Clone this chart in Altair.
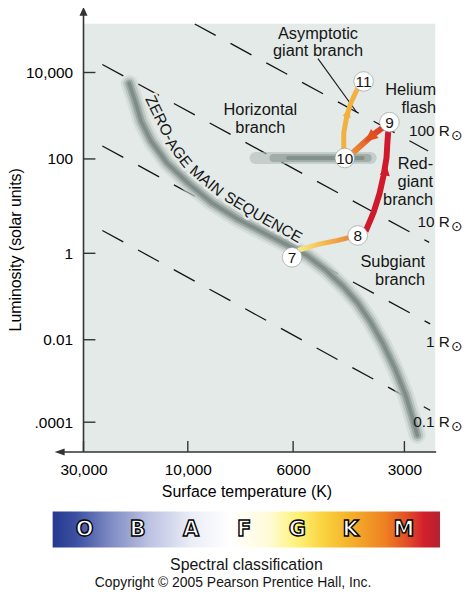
import altair as alt
import pandas as pd

FONT = "Liberation Sans"
BG = "#e4eae8"
INK = "#151515"

# ---------------- axes ----------------
x_tick_values = [30000, 10000, 6000, 3000]
x_tick_labels = ["30,000", "10,000", "6000", "3000"]
y_tick_values = [10000, 100, 1, 0.01, 0.0001]
y_tick_labels = ["10,000", "100", "1", "0.01", ".0001"]

# the printed figure's axes are not uniformly logarithmic: breakpoints of the scales
x_break_T = [30000, 10000, 6000, 3000, 2475]
x_break_px = [0, 105, 211, 323, 354]
y_break_L = [1.9e-5, 1e-4, 1e-2, 1, 1e2, 1e4, 1.35e5]
y_break_px = [431, 401, 318, 231, 136, 49, 0]

# ---------------- constant-radius lines ----------------
radius_labels = ["100 R", "10 R", "1 R", "0.1 R"]
radius_T_start = [9670, 24600, 24600, 24600]
radius_L_start = [1.34e5, 15300, 199, 3.05]
radius_T_end = [2586, 2570, 2554, 2554]
radius_L_end = [153, 1.70, 0.0233, 1.95e-4]
radius_label_T = [2257, 2257, 2257, 2257]
radius_label_L = [440, 4.5, 0.00895, 1e-4]

# ---------------- zero-age main sequence ----------------
zams_T = [18540, 17410, 16350, 14730, 12460, 9952, 8907, 7823, 6934, 6148,
          5469, 4893, 4377, 4013, 3704, 3417, 3173, 2982, 2856, 2768]
zams_L = [5587, 2154, 747, 259, 82.4, 29.8, 11.85, 5.20, 2.77, 1.474,
          0.853, 0.4066, 0.1654, 0.0709, 0.02593, 0.00758, 0.00189, 4.73e-4, 1.32e-4, 4.86e-5]
zams_words = ["ZERO-", "AGE", "MAIN", "SEQU", "ENCE"]
zams_word_T = [13410, 10990, 9125, 7598, 6327]
zams_word_L = [876, 137, 34.4, 9.76, 3.36]
zams_word_angle = [64, 52, 40, 31, 29]

# ---------------- horizontal branch ----------------
hb_T = [7200, 3700]
hb_mid_T = [6600, 3770]
hb_core_T = [6150, 3890]
hb_L = [105, 105]

# ---------------- evolutionary track ----------------
subgiant_T = [5818, 5140, 4543, 4115]
subgiant_L = [1.157, 1.547, 1.878, 2.28]
redgiant_T = [3820, 3636, 3503, 3417, 3354, 3333, 3313]
redgiant_L = [2.905, 7.30, 18.3, 43.9, 105, 259, 490]
flash_T = [3417, 3658, 3892, 4140]
flash_L = [544, 356, 221, 137]
agb_T = [4377, 4377, 4296, 4191, 4063, 3916]
agb_L = [153, 396, 974, 1938, 3469, 6210]

arrow_T = [3376, 3704, 4270]
arrow_L = [55.9, 320, 1141]
arrow_angle = [8, 230, 17]

star_labels = ["7", "8", "9", "10", "11"]
star_T = [6030, 4013, 3293, 4350, 3868]
star_L = [0.809, 2.39, 709, 105, 6210]

pointer_T = [5140, 4038]
pointer_L = [20980, 1204]

# anchors are at the first line of each note
note_c_text = ["Asymptotic\ngiant branch", "Horizontal\nbranch"]
note_c_T = [5140, 7035]
note_c_L = [78800, 1338]
note_r_text = ["Helium\nflash", "Red-\ngiant\nbranch", "Subgiant\nbranch"]
note_r_T = [2461, 2507, 2636]
note_r_L = [3857, 78.5, 0.621]

# ---------------- spectral classes ----------------
spectral_classes = ["O", "B", "A", "F", "G", "K", "M"]
spectral_pos = [0, 1, 2, 3, 4, 5, 6]
spectral_bar = [-0.6, 6.68]
spectral_stops = [(0.00, "#24398f"), (0.06, "#3c4fa2"), (0.15, "#7f8bc4"), (0.25, "#bcc2e2"),
                  (0.36, "#eceef7"), (0.46, "#ffffff"), (0.56, "#fffbd6"), (0.63, "#fff27a"),
                  (0.70, "#fad23e"), (0.78, "#f4ab2a"), (0.86, "#ee7f22"), (0.92, "#e04a26"),
                  (0.96, "#d21f2d"), (1.00, "#b42030")]


def label_expr(values, labels):
    parts = [f"datum.value == {v} ? '{l}'" for v, l in zip(values, labels)]
    return " : ".join(parts) + " : ''"


xscale = alt.Scale(type="log", domain=x_break_T, range=x_break_px, nice=False, zero=False)
yscale = alt.Scale(type="log", domain=y_break_L, range=y_break_px, nice=False, zero=False)

x_axis = alt.Axis(values=x_tick_values, labelExpr=label_expr(x_tick_values, x_tick_labels),
                  title="Surface temperature (K)", domain=False, ticks=False, grid=False,
                  labelPadding=11, labelFont=FONT, labelFontSize=15.5, labelColor="black",
                  labelFlush=False, labelOverlap=False,
                  titleFont=FONT, titleFontSize=16, titleFontWeight="normal", titleColor="black",
                  titleX=164, titleY=40, titleAlign="center", titleBaseline="middle")
y_axis = alt.Axis(values=y_tick_values, labelExpr=label_expr(y_tick_values, y_tick_labels),
                  title="Luminosity (solar units)", domain=False, ticks=False, grid=False,
                  labelPadding=11, labelFont=FONT, labelFontSize=15.5, labelColor="black",
                  labelOverlap=False,
                  titleFont=FONT, titleFontSize=16, titleFontWeight="normal", titleColor="black",
                  titleX=-68, titleY=227, titleAngle=270, titleAlign="center", titleBaseline="middle")


def X(field="T"):
    return alt.X(f"{field}:Q", scale=xscale, axis=x_axis)


def Y(field="L"):
    return alt.Y(f"{field}:Q", scale=yscale, axis=y_axis)


def path_df(T, L):
    return pd.DataFrame({"T": T, "L": L, "i": list(range(len(T)))})


one = pd.DataFrame({"k": [0]})

layers = []

# constant radius dashed lines
rows = []
for name, t0, l0, t1, l1 in zip(radius_labels, radius_T_start, radius_L_start, radius_T_end, radius_L_end):
    rows.append({"name": name, "i": 0, "T": t0, "L": l0})
    rows.append({"name": name, "i": 1, "T": t1, "L": l1})
radius_df = pd.DataFrame(rows)
layers.append(alt.Chart(radius_df).mark_line(strokeDash=[24, 17], color=INK, strokeWidth=1.3).encode(
    x=X(), y=Y(), detail="name:N", order="i:Q"))

# ZAMS soft tube
zdf = path_df(zams_T, zams_L)
for w, c, op in [(17, "#cbd3d0", 0.6), (12, "#b0bab6", 0.7), (7.5, "#939f9b", 0.85), (3.5, "#7c8985", 0.9)]:
    layers.append(alt.Chart(zdf).mark_line(strokeWidth=w, color=c, opacity=op, strokeCap="round",
                                           strokeJoin="round").encode(x=X(), y=Y(), order="i:Q"))

# horizontal branch blob
for T, w, c, op in [(hb_T, 12, "#b0bab6", 0.6), (hb_mid_T, 8, "#939f9b", 0.7), (hb_core_T, 4, "#7c8985", 0.8)]:
    layers.append(alt.Chart(path_df(T, hb_L)).mark_line(strokeWidth=w, color=c, opacity=op,
                                                        strokeCap="round").encode(x=X(), y=Y(), order="i:Q"))

# ZAMS label (with halo to interrupt dashes)
zw = pd.DataFrame({"w": zams_words, "T": zams_word_T, "L": zams_word_L, "a": zams_word_angle})
for extra in [dict(stroke=BG, strokeWidth=5, strokeJoin="round"), dict()]:
    layers.append(alt.Chart(zw).mark_text(font=FONT, fontSize=15.5, color=INK, align="center",
                                          baseline="middle", **extra).encode(
        x=X(), y=Y(), text="w:N", angle=alt.Angle("a:Q", scale=None)))

# annotation texts
layers.append(alt.Chart(pd.DataFrame({"t": note_c_text, "T": note_c_T, "L": note_c_L})).mark_text(
    font=FONT, fontSize=16.5, color=INK, align="center", baseline="middle", lineBreak="\n",
    lineHeight=17.5).encode(x=X(), y=Y(), text="t:N"))
layers.append(alt.Chart(pd.DataFrame({"t": note_r_text, "T": note_r_T, "L": note_r_L})).mark_text(
    font=FONT, fontSize=16.5, color=INK, align="right", baseline="middle", lineBreak="\n",
    lineHeight=18).encode(x=X(), y=Y(), text="t:N"))

# pointer line for AGB label
layers.append(alt.Chart(path_df(pointer_T, pointer_L)).mark_line(color=INK, strokeWidth=1.1).encode(
    x=X(), y=Y(), order="i:Q"))

# tracks
grad_sub = alt.LinearGradient(gradient="linear", x1=0, y1=0, x2=1, y2=0,
                              stops=[alt.GradientStop(offset=0, color="#f8ec86"),
                                     alt.GradientStop(offset=0.5, color="#f2b64e"),
                                     alt.GradientStop(offset=1, color="#e8843a")])
layers.append(alt.Chart(path_df(subgiant_T, subgiant_L)).mark_line(stroke=grad_sub, strokeWidth=5).encode(
    x=X(), y=Y(), order="i:Q"))
layers.append(alt.Chart(path_df(redgiant_T, redgiant_L)).mark_line(color="#d01a2c", strokeWidth=6).encode(
    x=X(), y=Y(), order="i:Q"))
grad_flash = alt.LinearGradient(gradient="linear", x1=1, y1=0, x2=0, y2=1,
                                stops=[alt.GradientStop(offset=0, color="#dc3420"),
                                       alt.GradientStop(offset=1, color="#ec8e38")])
layers.append(alt.Chart(path_df(flash_T, flash_L)).mark_line(stroke=grad_flash, strokeWidth=6).encode(
    x=X(), y=Y(), order="i:Q"))
layers.append(alt.Chart(path_df(agb_T, agb_L)).mark_line(color="#f2b040", strokeWidth=5).encode(
    x=X(), y=Y(), order="i:Q"))

ARROW = "M0,-1L0.8,0.75L-0.8,0.75Z"
for t, l, a, col, sz in zip(arrow_T, arrow_L, arrow_angle, ["#d01a2c", "#e2501f", "#f2b040"], [160, 220, 110]):
    layers.append(alt.Chart(pd.DataFrame({"T": [t], "L": [l]})).mark_point(
        shape=ARROW, filled=True, color=col, opacity=1, size=sz, angle=a).encode(x=X(), y=Y()))

# stars
sdf = pd.DataFrame({"s": star_labels, "T": star_T, "L": star_L})
layers.append(alt.Chart(sdf).mark_circle(size=390, color="white", opacity=1, stroke="#9aa09e",
                                         strokeWidth=0.7).encode(x=X(), y=Y()))
layers.append(alt.Chart(sdf).mark_text(font=FONT, fontSize=15.5, color=INK, align="center",
                                       baseline="middle", dy=1).encode(x=X(), y=Y(), text="s:N"))

# radius labels
rl = pd.DataFrame({"t": radius_labels, "T": radius_label_T, "L": radius_label_L})
layers.append(alt.Chart(rl).mark_text(font=FONT, fontSize=15.5, color=INK, align="right",
                                      baseline="middle").encode(x=X(), y=Y(), text="t:N"))
layers.append(alt.Chart(rl).mark_text(font="DejaVu Sans", fontSize=14, color=INK, align="left",
                                      baseline="middle", dx=1, dy=5).encode(x=X(), y=Y(), text=alt.value("\u2299")))

# inward ticks
layers.append(alt.Chart(pd.DataFrame({"T": x_tick_values})).mark_rule(color="#333333", strokeWidth=1.4).encode(
    x=X(), y=alt.value(420), y2=alt.value(431)))
layers.append(alt.Chart(pd.DataFrame({"L": y_tick_values})).mark_rule(color="#333333", strokeWidth=1.4).encode(
    y=Y(), x=alt.value(0), x2=alt.value(12)))

# axis lines with arrows
layers.append(alt.Chart(one).mark_rule(color="#333333", strokeWidth=1.6).encode(
    x=alt.value(0), y=alt.value(-10), y2=alt.value(431)))
layers.append(alt.Chart(one).mark_rule(color="#333333", strokeWidth=1.6).encode(
    x=alt.value(-22), x2=alt.value(355), y=alt.value(431)))
layers.append(alt.Chart(one).mark_point(shape="M0,-1L0.9,1L-0.9,1Z", filled=True, color="#333333",
                                        opacity=1, size=81).encode(x=alt.value(0), y=alt.value(-12.5)))
layers.append(alt.Chart(one).mark_point(shape="M-1,0L1,-0.7L1,0.7Z", filled=True, color="#333333",
                                        opacity=1, size=100).encode(x=alt.value(-24), y=alt.value(431)))

main = alt.layer(*layers)

# ---------------- spectral classification strip ----------------
ss = alt.Scale(domain=[-0.02, 6.59], nice=False, zero=False)
grad_bar = alt.LinearGradient(gradient="linear", x1=0, y1=0, x2=1, y2=0,
                              stops=[alt.GradientStop(offset=o, color=c) for o, c in spectral_stops])
bar = alt.Chart(pd.DataFrame({"start": [spectral_bar[0]], "end": [spectral_bar[1]]})).mark_rect(
    color=grad_bar).encode(x=alt.X("start:Q", scale=ss, axis=None), x2="end:Q",
                           y=alt.value(491), y2=alt.value(527))
letters = alt.Chart(pd.DataFrame({"c": spectral_classes, "p": spectral_pos})).mark_text(
    font="DejaVu Sans", fontWeight="bold", fontSize=21, fill="white", stroke="black", strokeWidth=1.4,
    align="center", baseline="middle").encode(x=alt.X("p:Q", scale=ss, axis=None), y=alt.value(510), text="c:N")
spec_title = alt.Chart(one).mark_text(font=FONT, fontSize=16, color=INK, align="center",
                                      baseline="alphabetic").encode(
    x=alt.value(164), y=alt.value(550), text=alt.value("Spectral classification"))
copyright_txt = alt.Chart(one).mark_text(font=FONT, fontSize=14, color=INK, align="center",
                                         baseline="alphabetic").encode(
    x=alt.value(150.5), y=alt.value(567), text=alt.value("Copyright \u00a9 2005 Pearson Prentice Hall, Inc."))

spec = alt.layer(bar, letters, spec_title, copyright_txt)

chart = alt.layer(main, spec).resolve_scale(x="independent").properties(
    width=354, height=431,
    padding={"left": 76, "top": 14, "right": 30, "bottom": 140},
    autosize=alt.AutoSizeParams(type="none"),
).configure_view(fill=BG, stroke=None)

chart.save("out.html", embed_options={"renderer": "svg", "actions": False})
